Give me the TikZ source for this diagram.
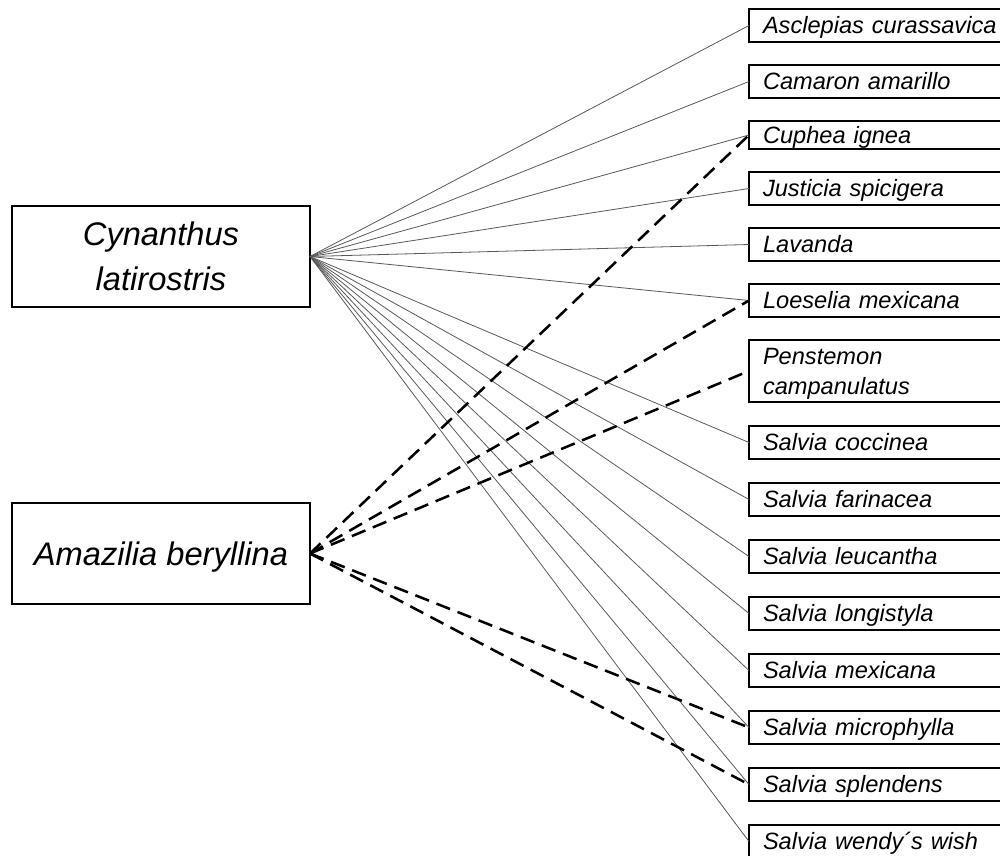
\documentclass[tikz,border=0pt]{standalone}
\usepackage{fontspec}
\setmainfont{Liberation Sans}
\usepackage{tikz}
\usetikzlibrary{positioning}
\tikzset{
	plant/.style = {
		draw, rectangle, line width=1.1pt, outer sep=0pt,
		text width=190pt, align=left,
		inner xsep=10.5pt, inner ysep=0pt,
		minimum height=24.75pt,
		text height=12.7pt, text depth=0pt,
		font=\fontsize{17.7}{22.5}\selectfont\itshape
	}
}

\begin{document}
\begin{tikzpicture}[
		x=0.75pt, y=-0.75pt,
        node distance = 17.25pt,
        bird/.style = {draw, rectangle, line width=1.1pt, outer sep=0pt, minimum width=223.5pt, minimum height=75.75pt, align=center, font=\fontsize{24.5}{33.75}\selectfont\itshape},
        visit/.style = {draw=black!65, line width=0.6pt},
        feed/.style = {draw=black, line width=1.9pt, dash pattern=on 11pt off 6pt}
    ]
    \useasboundingbox (0,0) rectangle (1000,856);
    \clip (0,0) rectangle (1000,856);
    %\draw[step=50,gray,very thin] (0,0) grid (1000,856);

    \node[bird] (cyn) at (161,256.5) {Cynanthus\\latirostris};
    \node[bird, text depth=0pt, below = 147pt of cyn] (ama) {Amazilia\ beryllina};

    \node[plant, anchor=north west] (asc) at (749,9) {Asclepias curassavica};
    \node[plant, below = of asc] (cam) {Camaron amarillo};
    \node[plant, below = of cam, minimum height=21pt] (cup) {Cuphea ignea};
    \node[plant, below = of cup] (jus) {Justicia spicigera};
    \node[plant, below = of jus] (lav) {Lavanda};
    \node[plant, below = of lav] (loe) {Loeselia mexicana};
    \node[plant, below = of loe, minimum height=46.5pt, text depth=22.5pt] (pen) {Penstemon\\campanulatus};
    \node[plant, below = 18pt of pen] (coc) {Salvia coccinea};
    \node[plant, below = 18pt of coc] (far) {Salvia farinacea};
    \node[plant, below = 18pt of far] (leu) {Salvia leucantha};
    \node[plant, below = 18pt of leu] (lon) {Salvia longistyla};
    \node[plant, below = 18pt of lon] (mex) {Salvia mexicana};
    \node[plant, below = 18pt of mex] (mic) {Salvia microphylla};
    \node[plant, below = 18pt of mic] (spl) {Salvia splendens};
    \node[plant, below = 18pt of spl] (wen) {Salvia wendy´s wish};

    \draw[visit] (cyn.east) -- (asc.west);
    \draw[visit] (cyn.east) -- (cam.west);
    \draw[visit] (cyn.east) -- (cup.west);
    \draw[visit] (cyn.east) -- (jus.west);
    \draw[visit] (cyn.east) -- (lav.west);
    \draw[visit] (cyn.east) -- (loe.west);
    \draw[visit] (cyn.east) -- (coc.west);
    \draw[visit] (cyn.east) -- (far.west);
    \draw[visit] (cyn.east) -- (leu.west);
    \draw[visit] (cyn.east) -- (lon.west);
    \draw[visit] (cyn.east) -- (mex.west);
    \draw[visit] (cyn.east) -- (mic.west);
    \draw[visit] (cyn.east) -- (spl.west);
    \draw[visit] (cyn.east) -- (wen.west);

    \draw[feed] (ama.east) -- (cup.west);
    \draw[feed] (ama.east) -- (loe.west);
    \draw[feed] (ama.east) -- (pen.west);
    \draw[feed] (ama.east) -- (mic.west);
    \draw[feed] (ama.east) -- (spl.west);

\end{tikzpicture}
\end{document}
